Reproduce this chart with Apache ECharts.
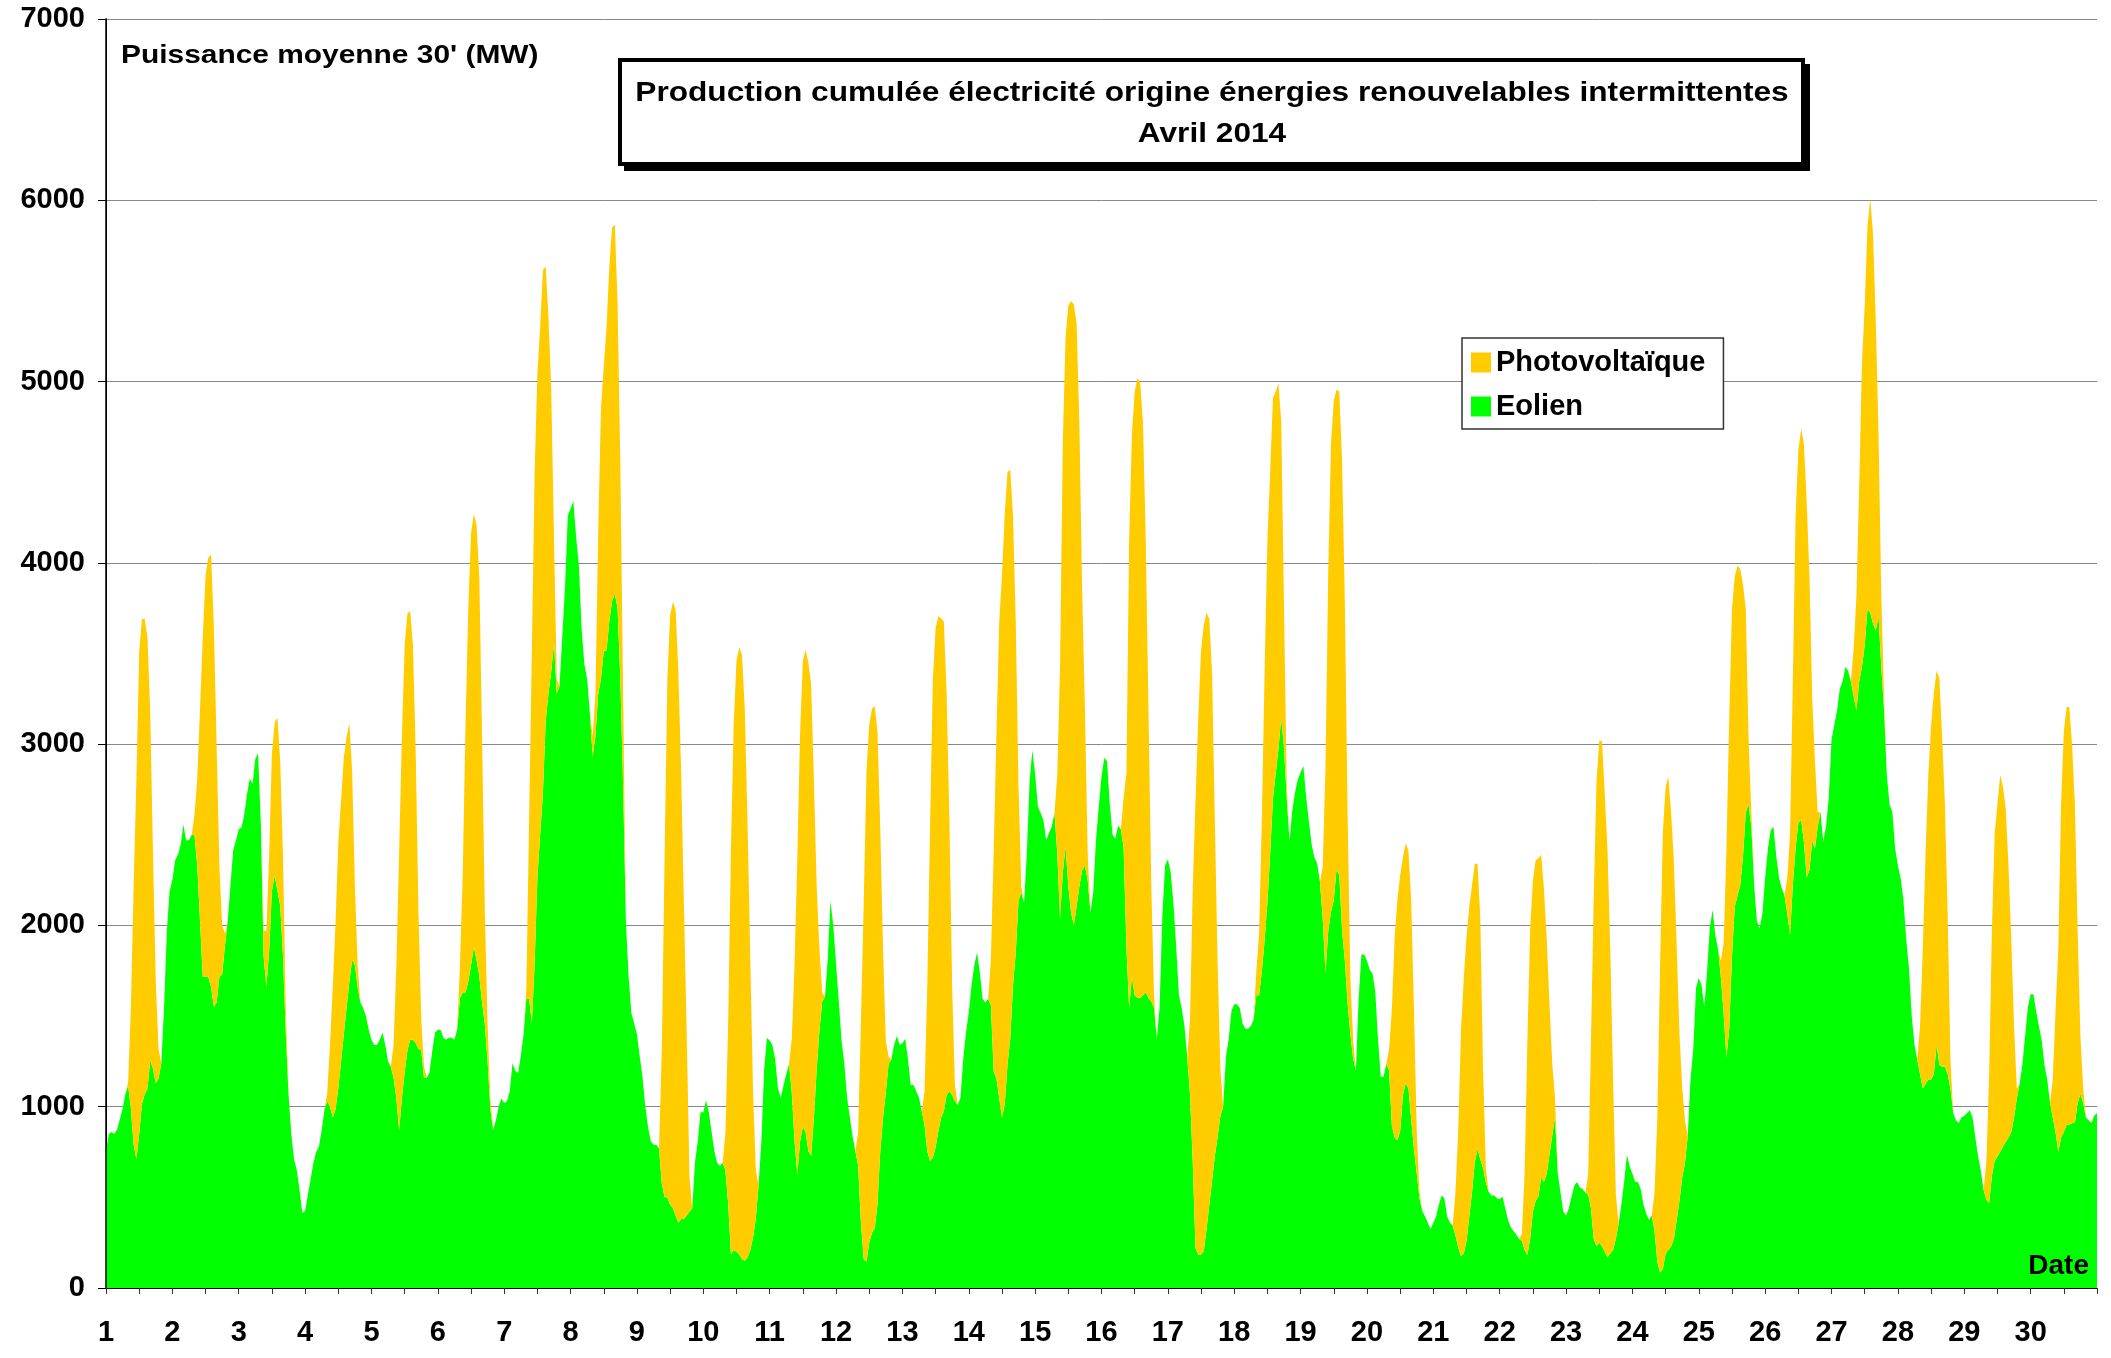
<!DOCTYPE html>
<html lang="fr">
<head>
<meta charset="utf-8">
<title>Production cumulée électricité origine énergies renouvelables intermittentes - Avril 2014</title>
<script src="https://cdn.jsdelivr.net/npm/echarts@6/dist/echarts.min.js"></script>
<style>
  html, body { margin: 0; padding: 0; background: #fff; }
  #graphique { width: 2111px; height: 1358px; }
</style>
</head>
<body>
<div id="graphique"></div>
<script>
// Valeurs, ramenées au pas horaire (MW)

const etiquettesJours = ['1', '2', '3', '4', '5', '6', '7', '8', '9', '10', '11', '12', '13', '14', '15',
  '16', '17', '18', '19', '20', '21', '22', '23', '24', '25', '26', '27', '28', '29', '30'];

// Eolien : 24 valeurs par jour (0h..23h), du 1er au 30 avril, puis le 1er mai 0h
const eolien = [
  750, 850, 860, 850, 875, 930, 990, 1070, 1115, 990, 790, 710, 850, 1015, 1070, 1100, 1255, 1210, 1130, 1155, 1240, 1550, 1970, 2190,
  2250, 2360, 2390, 2445, 2555, 2470, 2470, 2500, 2500, 2330, 2025, 1715, 1715, 1715, 1660, 1550, 1575, 1715, 1730, 1885, 2025, 2220, 2415, 2470,
  2530, 2540, 2610, 2725, 2810, 2780, 2920, 2950, 2555, 1830, 1660, 1860, 2190, 2275, 2190, 2110, 1830, 1410, 1070, 850, 710, 650, 540, 415,
  425, 515, 600, 690, 750, 780, 870, 985, 1030, 1000, 940, 985, 1100, 1250, 1400, 1545, 1690, 1810, 1780, 1660, 1575, 1545, 1500, 1425,
  1370, 1340, 1340, 1370, 1410, 1340, 1250, 1220, 1160, 1045, 870, 1045, 1190, 1310, 1370, 1370, 1350, 1320, 1310, 1160, 1160, 1190, 1310, 1410,
  1425, 1425, 1380, 1370, 1380, 1380, 1370, 1425, 1600, 1630, 1630, 1690, 1780, 1880, 1810, 1720, 1575, 1455, 1250, 985, 870, 925, 1000, 1045,
  1020, 1030, 1085, 1240, 1200, 1185, 1280, 1400, 1595, 1595, 1460, 1790, 2260, 2500, 2730, 3125, 3280, 3400, 3555, 3280, 3320, 3595, 3870, 4260,
  4300, 4340, 4145, 3985, 3635, 3440, 3360, 3165, 2930, 3045, 3280, 3360, 3515, 3515, 3675, 3790, 3830, 3750, 3360, 2770, 2025, 1715, 1515, 1460,
  1400, 1280, 1165, 1005, 890, 810, 790, 790, 770, 575, 500, 500, 460, 440, 400, 360, 380, 380, 400, 420, 440, 695, 810, 970,
  970, 1035, 970, 860, 755, 690, 675, 690, 650, 465, 185, 210, 200, 185, 160, 150, 170, 210, 280, 385, 570, 810, 1205, 1380,
  1365, 1340, 1260, 1100, 1050, 1115, 1180, 1235, 1075, 810, 625, 810, 890, 860, 755, 730, 940, 1205, 1420, 1580, 1605, 1815, 2135, 2000,
  1790, 1580, 1365, 1235, 1050, 940, 835, 755, 675, 360, 160, 145, 250, 305, 330, 465, 755, 940, 1075, 1235, 1260, 1340, 1390, 1340,
  1350, 1375, 1265, 1120, 1120, 1085, 1050, 975, 900, 755, 700, 720, 775, 865, 940, 975, 1065, 1085, 1065, 1030, 1010, 1050, 1265, 1410,
  1520, 1670, 1780, 1850, 1740, 1595, 1575, 1595, 1560, 1195, 1155, 1050, 940, 1010, 1230, 1375, 1670, 1850, 2140, 2180, 2125, 2400, 2800, 2965,
  2835, 2655, 2620, 2580, 2470, 2510, 2545, 2620, 2400, 2035, 2290, 2435, 2215, 2070, 2000, 2105, 2215, 2305, 2330, 2250, 2070, 2180, 2470, 2655,
  2820, 2925, 2905, 2670, 2500, 2480, 2550, 2530, 2430, 1885, 1545, 1715, 1615, 1600, 1600, 1615, 1630, 1600, 1580, 1545, 1375, 1545, 2055, 2330,
  2365, 2295, 2125, 1885, 1615, 1545, 1445, 1275, 1070, 695, 220, 185, 185, 205, 325, 460, 595, 730, 835, 950, 1000, 1275, 1375, 1530,
  1565, 1565, 1545, 1460, 1430, 1430, 1445, 1480, 1615, 1615, 1750, 1920, 2125, 2395, 2700, 2840, 2975, 3145, 2975, 2700, 2465, 2635, 2735, 2805,
  2845, 2880, 2710, 2575, 2445, 2375, 2340, 2240, 2040, 1735, 1970, 2075, 2140, 2310, 2275, 1970, 1805, 1570, 1400, 1265, 1200, 1600, 1840, 1840,
  1805, 1755, 1735, 1635, 1370, 1165, 1165, 1235, 1200, 895, 830, 815, 865, 1065, 1130, 1100, 930, 765, 630, 495, 425, 395, 360, 325,
  360, 395, 460, 510, 495, 395, 360, 345, 290, 225, 175, 190, 260, 395, 530, 695, 765, 710, 660, 580, 530, 510, 510, 495,
  490, 505, 440, 375, 335, 315, 295, 270, 260, 210, 180, 270, 420, 480, 505, 610, 585, 630, 735, 840, 945, 630, 525, 420,
  400, 440, 505, 565, 585, 555, 545, 525, 515, 440, 270, 230, 250, 230, 200, 170, 190, 210, 270, 355, 460, 585, 735, 670,
  630, 585, 585, 545, 460, 410, 375, 400, 315, 145, 85, 105, 190, 210, 230, 270, 375, 480, 610, 690, 840, 1150, 1320, 1655,
  1710, 1670, 1550, 1750, 1990, 2085, 1945, 1865, 1710, 1510, 1270, 1430, 1830, 2105, 2165, 2225, 2385, 2625, 2665, 2545, 2225, 2025, 1985, 2065,
  2265, 2425, 2525, 2545, 2385, 2265, 2205, 2165, 2065, 1945, 2225, 2425, 2565, 2585, 2465, 2265, 2305, 2465, 2425, 2545, 2625, 2465, 2545, 2705,
  3025, 3105, 3185, 3305, 3345, 3425, 3405, 3345, 3265, 3185, 3345, 3425, 3545, 3745, 3725, 3665, 3625, 3705, 3425, 3185, 2825, 2665, 2625, 2425,
  2330, 2260, 2140, 1925, 1765, 1500, 1340, 1260, 1180, 1100, 1125, 1150, 1150, 1180, 1340, 1230, 1220, 1220, 1180, 1100, 965, 925, 910, 940,
  950, 965, 980, 940, 830, 725, 645, 540, 485, 470, 620, 700, 725, 750, 780, 805, 830, 860, 940, 1045, 1125, 1230, 1390, 1550,
  1620, 1620, 1525, 1445, 1365, 1230, 1150, 1020, 940, 860, 750, 830, 860, 900, 900, 910, 910, 1020, 1070, 1020, 940, 925, 910, 950,
  965
];

// Photovoltaïque : une ligne par jour, valeurs de 8h à 20h (nul en dehors)
const premiereHeurePV = 8;
const photovoltaique = [
  [20, 560, 1430, 2100, 2660, 2675, 2620, 2490, 1915, 1180, 560, 165, 0],
  [110, 480, 1170, 1875, 2215, 2315, 2385, 2100, 1425, 615, 270, 70, 0],
  [0, 140, 310, 530, 760, 845, 955, 795, 560, 140, 0, 0, 0],
  [45, 340, 720, 1025, 1355, 1440, 1525, 1495, 1425, 1045, 440, 120, 0],
  [180, 735, 1530, 2000, 2355, 2410, 2365, 2175, 1605, 755, 175, 60, 0],
  [180, 650, 1470, 2060, 2380, 2390, 2400, 2205, 1470, 620, 205, 60, 0],
  [50, 980, 2055, 2705, 2785, 2800, 2885, 2510, 2080, 1565, 590, 80, 0],
  [115, 235, 900, 1490, 1570, 1785, 1955, 2060, 2035, 1685, 1175, 510, 0],
  [0, 745, 1880, 2860, 3250, 3345, 3340, 3030, 2460, 1730, 1000, 195, 0],
  [210, 1005, 2245, 2905, 3260, 3350, 3330, 3045, 2390, 1605, 795, 265, 0],
  [300, 980, 1745, 2255, 2570, 2660, 2695, 2600, 1860, 1010, 450, 50, 0],
  [185, 1110, 1950, 2705, 2855, 2890, 2880, 2600, 1775, 930, 290, 40, 0],
  [185, 915, 1845, 2630, 2865, 2840, 2755, 2700, 2210, 1495, 595, 90, 0],
  [255, 1205, 1900, 2620, 2990, 3255, 3270, 3140, 2590, 1820, 620, 35, 0],
  [430, 1385, 2370, 2810, 3205, 3375, 3425, 3215, 2555, 1545, 870, 150, 0],
  [275, 955, 2585, 2995, 3330, 3420, 3395, 3160, 2500, 1580, 645, 70, 0],
  [410, 1515, 2470, 2960, 3335, 3455, 3400, 3230, 2790, 1840, 950, 255, 0],
  [135, 340, 850, 1500, 2005, 2110, 2210, 2105, 2015, 1635, 785, 60, 0],
  [285, 1145, 1985, 2585, 2755, 2645, 2670, 2590, 1980, 1040, 305, 105, 0],
  [115, 640, 1100, 1325, 1410, 1310, 1325, 1310, 1205, 770, 235, 35, 0],
  [240, 640, 1250, 1515, 1680, 1710, 1695, 1645, 1575, 1325, 535, 80, 0],
  [35, 420, 1180, 1700, 1825, 1880, 1865, 1780, 1615, 1300, 835, 395, 105],
  [115, 920, 1885, 2560, 2770, 2785, 2525, 2240, 1675, 940, 250, 0, 0],
  [210, 800, 1695, 2410, 2575, 2610, 2390, 2080, 1510, 925, 500, 235, 0],
  [95, 395, 1155, 1715, 1915, 1820, 1820, 1740, 1495, 1120, 360, 80, 0],
  [200, 560, 1120, 1835, 2055, 2155, 2195, 2075, 1635, 800, 480, 80, 0],
  [260, 635, 1075, 1675, 1875, 2110, 2285, 2150, 1710, 995, 400, 60, 0],
  [265, 770, 1280, 1680, 1950, 2105, 2065, 2135, 1820, 1450, 880, 160, 0],
  [215, 710, 1360, 1810, 1945, 2080, 1985, 1840, 1495, 1065, 505, 55, 0],
  [210, 665, 1120, 1840, 2210, 2305, 2305, 2080, 1760, 955, 320, 80, 0]
];

// série horaire complète du PV, alignée sur l'éolien
const heures = eolien.map((_, i) => String(i));
const pvHoraire = eolien.map((_, i) => {
  const ligne = photovoltaique[Math.floor(i / 24)];
  const h = (i % 24) - premiereHeurePV;
  return ligne && h >= 0 && h < ligne.length ? ligne[h] : 0;
});

const POLICE = '"Liberation Sans", Arial, Helvetica, sans-serif';
const VERT = '#00FF00';
const JAUNE = '#FFCC00';

const chart = echarts.init(document.getElementById('graphique'), null, { renderer: 'canvas' });

chart.setOption({
  animation: false,
  backgroundColor: '#fff',
  textStyle: { fontFamily: POLICE },
  grid: { left: 106, right: 14, top: 19, bottom: 70, containLabel: false, outerBoundsMode: 'none' },
  legend: {
    data: ['Photovoltaïque', 'Eolien'],
    orient: 'vertical',
    left: 1462,
    top: 338,
    icon: 'rect',
    itemWidth: 20,
    itemHeight: 20,
    itemGap: 15,
    padding: [10, 18, 8, 9],
    backgroundColor: '#fff',
    borderColor: '#333',
    borderWidth: 1.5,
    selectedMode: false,
    textStyle: { fontSize: 29, fontWeight: 'bold', color: '#000', fontFamily: POLICE, lineHeight: 28 }
  },
  xAxis: {
    type: 'category',
    data: heures,
    boundaryGap: false,
    z: 5,
    axisLine: { show: true, lineStyle: { color: '#000', width: 1 } },
    axisTick: { show: true, interval: (i) => i % 12 === 0, length: 6, lineStyle: { color: '#333' } },
    axisLabel: {
      interval: (i) => i % 24 === 0 && i < 720,
      formatter: (v, i) => etiquettesJours[i / 24] ?? '',
      fontSize: 29, fontWeight: 'bold', color: '#000', fontFamily: POLICE, margin: 30
    },
    splitLine: { show: false }
  },
  yAxis: [{
    type: 'value', min: 0, max: 7000, interval: 1000,
    axisLine: { show: true, lineStyle: { color: '#000' } },
    axisTick: { show: true, length: 8, lineStyle: { color: '#000' } },
    axisLabel: {
      formatter: (v) => String(v),
      fontSize: 29, fontWeight: 'bold', color: '#000', fontFamily: POLICE, margin: 21
    },
    splitLine: { show: true, lineStyle: { color: '#888', width: 1 } }
  }, {
    // trait vertical de l'axe, redessiné par-dessus les aires
    type: 'value', min: 0, max: 7000, interval: 1000, position: 'left', offset: 0, z: 5,
    axisLine: { show: true, lineStyle: { color: '#000', width: 1.5 } },
    axisTick: { show: false }, axisLabel: { show: false }, splitLine: { show: false }
  }],
  series: [{
    name: 'Eolien',
    type: 'line',
    stack: 'cumul',
    data: eolien,
    yAxisIndex: 0,
    color: VERT,
    symbol: 'none',
    showSymbol: false,
    lineStyle: { width: 0, color: VERT },
    itemStyle: { color: VERT },
    areaStyle: { color: VERT, opacity: 1 }
  }, {
    name: 'Photovoltaïque',
    type: 'line',
    stack: 'cumul',
    data: pvHoraire,
    yAxisIndex: 0,
    color: JAUNE,
    symbol: 'none',
    showSymbol: false,
    lineStyle: { width: 0, color: JAUNE },
    itemStyle: { color: JAUNE },
    areaStyle: { color: JAUNE, opacity: 1 }
  }],
  graphic: [
    { type: 'rect', z: 10, shape: { x: 624, y: 64, width: 1186, height: 107 }, style: { fill: '#000' } },
    { type: 'rect', z: 11, shape: { x: 620, y: 60, width: 1183, height: 104 }, style: { fill: '#fff', stroke: '#000', lineWidth: 4 } },
    {
      type: 'text', z: 12, x: 1212, y: 93, scaleX: 1.13,
      style: {
        text: 'Production cumulée électricité origine énergies renouvelables intermittentes',
        font: 'bold 28px ' + POLICE, fill: '#000',
        align: 'center', verticalAlign: 'middle', textAlign: 'center', textVerticalAlign: 'middle'
      }
    },
    {
      type: 'text', z: 12, x: 1212, y: 134, scaleX: 1.13,
      style: {
        text: 'Avril 2014', font: 'bold 28px ' + POLICE, fill: '#000',
        align: 'center', verticalAlign: 'middle', textAlign: 'center', textVerticalAlign: 'middle'
      }
    },
    {
      type: 'text', z: 12, x: 121, y: 56, scaleX: 1.15,
      style: {
        text: "Puissance moyenne 30' (MW)", font: 'bold 26px ' + POLICE, fill: '#000',
        align: 'left', verticalAlign: 'middle', textAlign: 'left', textVerticalAlign: 'middle'
      }
    },
    {
      type: 'text', z: 12, x: 2089, y: 1266,
      style: {
        text: 'Date', font: 'bold 28px ' + POLICE, fill: '#000',
        align: 'right', verticalAlign: 'middle', textAlign: 'right', textVerticalAlign: 'middle'
      }
    }
  ]
});
</script>
</body>
</html>
